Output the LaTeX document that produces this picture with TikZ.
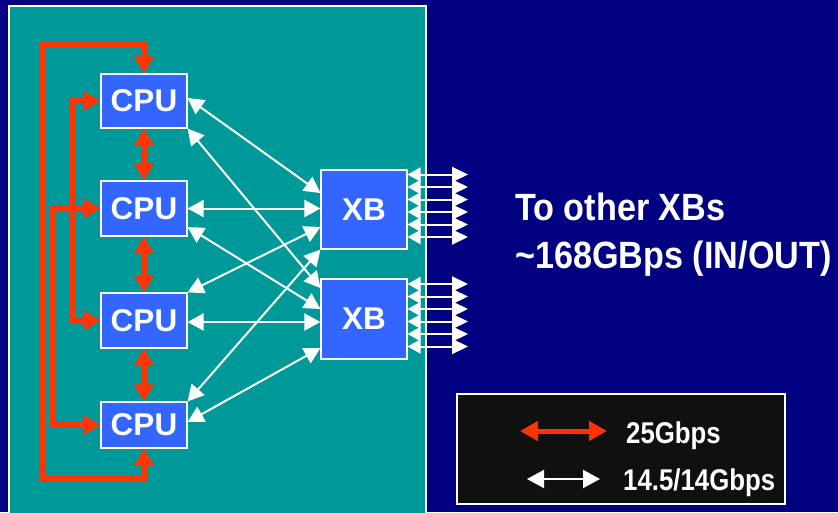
\documentclass[tikz,border=0pt]{standalone}
\usepackage{fontspec}
\setmainfont{Liberation Sans}
\usetikzlibrary{arrows.meta,calc}
\definecolor{navybg}{HTML}{000080}
\definecolor{tealbg}{HTML}{009999}
\definecolor{boxblue}{HTML}{3366FF}
\definecolor{linkred}{HTML}{FF3300}
\definecolor{legendbg}{HTML}{101010}
\begin{document}
\begin{tikzpicture}[x=1pt,y=-1pt,
  box/.style={draw=white,line width=1.2pt,fill=boxblue,text=white,
    font=\fontsize{31.5}{31.5}\selectfont\bfseries,inner sep=0pt,minimum width=86pt},
  redlink/.style={draw=linkred,line width=5.5pt,
    {Triangle[length=17pt,width=19pt]}-{Triangle[length=17pt,width=19pt]}},
  wlink/.style={draw=white,line width=2pt,
    {Triangle[length=16pt,width=17pt]}-{Triangle[length=16pt,width=17pt]}},
  olink/.style={draw=white,line width=2pt,
    {Triangle[length=13pt,width=14pt]}-{Triangle[length=16pt,width=15pt]}},
  bigtext/.style={anchor=base west,text=white,inner sep=0pt,
    font=\fontsize{38}{38}\selectfont\bfseries},
  legtext/.style={anchor=base west,text=white,inner sep=0pt,
    font=\fontsize{30}{30}\selectfont\bfseries}]
\useasboundingbox (0,0) rectangle (838,512);
\fill[navybg] (0,0) rectangle (838,512);
\begin{scope}
  \clip (0,0) rectangle (838,512);
  \draw[white,line width=1.5pt,fill=tealbg] (9,6) rectangle (426,530);
\end{scope}

% nodes
\node[box,minimum height=54pt] (cpu1) at (144,101) {CPU};
\node[box,minimum height=55pt] (cpu2) at (144,208.5) {CPU};
\node[box,minimum height=55pt] (cpu3) at (144,320.5) {CPU};
\node[box,minimum height=46pt] (cpu4) at (144,425) {CPU};
\node[box,minimum height=79pt] (xb1) at (364,209.5) {XB};
\node[box,minimum height=80pt] (xb2) at (364,319) {XB};

% corner coordinates
\coordinate (c1) at (42,44);
\coordinate (c2) at (42,478);
\coordinate (c3) at (73,200);
\coordinate (c4) at (52,300);
\coordinate (outx) at (468,0);

% red links
\draw[redlink] (cpu1.north) |- (c1) -- (c2) -| (cpu4.south);
\draw[redlink] (cpu1.west) -| (c3) |- (cpu3.west);
\draw[redlink] (cpu2.west) -| (c4) |- (cpu4.west);
\draw[redlink] (cpu1.south) -- (cpu2.north);
\draw[redlink] (cpu2.south) -- (cpu3.north);
\draw[redlink] (cpu3.south) -- (cpu4.north);

% white links
\draw[wlink] ([yshift=3pt]cpu1.east) -- ([yshift=16.5pt]xb1.west);
\draw[wlink] (cpu1.south east) -- ([yshift=31pt]xb2.west);
\draw[wlink] (cpu2.east) -- (cpu2.east -| xb1.west);
\draw[wlink] ([yshift=-18.5pt]cpu2.east) -- ([yshift=10pt]xb2.west);
\draw[wlink] (cpu3.north east) -- ([yshift=-17.5pt]xb1.west);
\draw[wlink] ([yshift=-1.5pt]cpu3.east) -- ([yshift=-3pt]xb2.west);
\draw[wlink] (cpu4.north east) -- (xb1.south west);
\draw[wlink] ([yshift=3pt]cpu4.east) -- ([yshift=-29pt]xb2.west);

% outgoing links
\foreach \d in {35,22.5,10,-2.5,-15,-27.5} {
  \draw[olink] ([yshift=\d pt]xb1.east) -- ([yshift=\d pt]xb1.east -| outx);
  \draw[olink] ([yshift=\d pt]xb2.east) -- ([yshift=\d pt]xb2.east -| outx);
}

% right text
\node[bigtext] (t1) at (515,220) {\scalebox{0.9}[1]{To other XBs}};
\node[bigtext] (t2) at (515,268) {\scalebox{0.9}[1]{\textasciitilde168GBps (IN/OUT)}};

% legend
\node[draw=white,line width=1.2pt,fill=legendbg,minimum width=328pt,
  minimum height=110pt,inner sep=0pt] (legend) at (621,449) {};
\coordinate (r1) at (520,431);
\coordinate (r2) at (607,431);
\coordinate (w1) at (527,479);
\coordinate (w2) at (600,479);
\draw[draw=linkred,line width=5pt,
  {Triangle[length=18pt,width=19pt]}-{Triangle[length=18pt,width=19pt]}] (r1) -- (r2);
\draw[draw=white,line width=2pt,
  {Triangle[length=17pt,width=18pt]}-{Triangle[length=17pt,width=18pt]}] (w1) -- (w2);
\node[legtext] (l1) at (626,443) {\scalebox{0.86}[1]{25Gbps}};
\node[legtext] (l2) at (623,490) {\scalebox{0.86}[1]{14.5/14Gbps}};
\end{tikzpicture}
\end{document}
